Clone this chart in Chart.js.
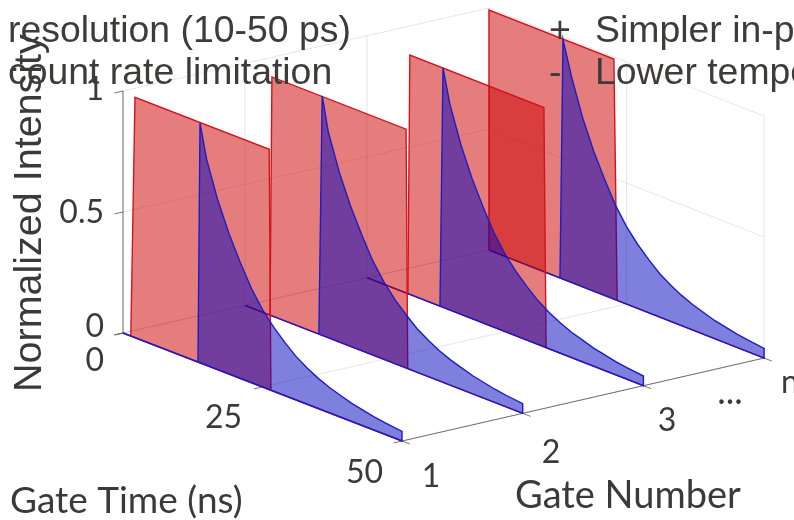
<!DOCTYPE html>
<html><head><meta charset="utf-8">
<style>html,body{margin:0;padding:0;background:#fff;overflow:hidden}canvas{display:block}</style>
<script src="https://cdn.jsdelivr.net/npm/chart.js@4"></script>
</head><body>
<div style="width:794px;height:520px;position:relative"><canvas id="c" width="794" height="520"></canvas></div>
<script>
const gates = [1, 2, 3, 4];
const gateTickLabels = ['1', '2', '3', 'n'];
const timeTicks = [0, 25, 50];
const intensityTicks = [0, 0.5, 1];
const redStart = [1.4, 4.5, 7.4, 0];
const redStartTop = [2.15, 4.85, 7.75, 0];
const redEnd = [26.5, 29.3, 32.4, 23.3];
const redEndTop = [26.2, 29.0, 32.0, 22.7];
const redHeight = [0.993, 0.987, 0.989, 0.992];
const blueStart = [13.44, 13.3, 13.2, 12.9];
const blueStartTop = [13.8, 13.9, 13.75, 13.45];
const bluePeak = 0.99;
const decayTime = [15, 17, 19, 21, 23, 25, 27, 29, 31, 33, 35, 37, 39, 41, 43, 45, 47, 50];
const decayValue = [0.85, 0.70, 0.58, 0.48, 0.39, 0.32, 0.265, 0.22, 0.18, 0.15, 0.125, 0.105, 0.09, 0.075, 0.065, 0.055, 0.048, 0.04];
const noteLeft = ['resolution (10-50 ps)', 'count rate limitation'];
const noteRightSign = ['+', '-'];
const noteRight = ['Simpler in-pixel', 'Lower temporal'];

function project(t, g, z) {
  const k = g - 1;
  return {
    x: 123 + 5.58 * t + k * (122 - 0.026 * t),
    y: 333 + 2.16 * t - 27.65 * k - 242 * z
  };
}
const line = (pts, color, width) => ({
  data: pts.map(p => project(p[0], p[1], p[2])),
  borderColor: color, borderWidth: width, pointRadius: 0, showLine: true, fill: false, tension: 0
});
const shape = (pts, fillColor, color) => ({
  data: pts.map(p => project(p[0], p[1], p[2])),
  borderColor: color, backgroundColor: fillColor, borderWidth: 1.4, pointRadius: 0,
  showLine: true, fill: 'shape', tension: 0, borderJoinStyle: 'miter'
});

const GRID = 'rgba(0,0,0,0.10)';
const AX = 'rgba(70,70,70,0.75)';
const datasets = [];
const tMin = timeTicks[0], tMax = timeTicks[timeTicks.length - 1];
const gMin = gates[0], gMax = gates[gates.length - 1];
const zMax = intensityTicks[intensityTicks.length - 1];

// back walls and floor
intensityTicks.forEach(z => {
  datasets.push(line([[tMin, gMin, z], [tMin, gMax, z], [tMax, gMax, z]], GRID, 1));
});
gates.forEach(g => {
  datasets.push(line([[tMin, g, 0], [tMin, g, zMax]], GRID, 1));
  datasets.push(line([[tMin, g, 0], [tMax, g, 0]], GRID, 1));
});
timeTicks.forEach(t => {
  datasets.push(line([[t, gMin, 0], [t, gMax, 0], [t, gMax, zMax]], GRID, 1));
});
// axis rulers
datasets.push(line([[tMin, gMin, 0], [tMin, gMin, zMax]], 'rgba(110,110,110,0.8)', 1.2));
datasets.push(line([[tMax, gMin, 0], [tMax, gMax, 0]], AX, 1));
intensityTicks.forEach(z => datasets.push(line([[tMin, gMin, z], [tMin, gMin - 0.07, z]], AX, 1)));
timeTicks.forEach(t => datasets.push(line([[t, gMin, 0], [t, gMin - 0.07, 0]], AX, 1)));
gates.forEach(g => datasets.push(line([[tMax, g, 0], [tMax + 1.4, g, 0]], AX, 1)));

// gates, back to front
for (let i = gates.length - 1; i >= 0; i--) {
  const g = gates[i];
  datasets.push(shape([
    [tMin, g, 0], [redStart[i], g, 0], [redStartTop[i], g, redHeight[i]],
    [redEndTop[i], g, redHeight[i]], [redEnd[i], g, 0], [tMax, g, 0], [tMin, g, 0]
  ], 'rgba(204,0,0,0.51)', 'rgb(214,18,30)'));
  const curve = decayTime.map((t, j) => [t, g, decayValue[j]]);
  datasets.push(shape([
    [tMin, g, 0], [blueStart[i], g, 0], [blueStartTop[i], g, bluePeak], ...curve, [tMax, g, 0], [tMin, g, 0]
  ], 'rgba(0,0,190,0.5)', 'rgb(28,28,196)'));
}
// Chart.js paints the lowest order last, so later entries go on top
datasets.forEach((d, i) => { d.order = -i; });

const textPlugin = {
  id: 'labels',
  afterDatasetsDraw(chart) {
    const c = chart.ctx;
    const put = (s, x, y, font, color, align, rot) => {
      c.save();
      c.font = font; c.fillStyle = color; c.textAlign = align || 'left'; c.textBaseline = 'alphabetic';
      c.translate(x, y);
      if (rot) c.rotate(rot);
      c.fillText(s, 0, 0);
      c.restore();
    };
    const cal = '32px Lato, sans-serif', dk = '#3a3a3a';
    put(String(intensityTicks[2]), 104, 100, cal, dk, 'right');
    put(String(intensityTicks[1]), 104, 223, cal, dk, 'right');
    put(String(intensityTicks[0]), 104, 337, cal, dk, 'right');
    put(String(timeTicks[0]), 104, 371, cal, dk, 'right');
    put(String(timeTicks[1]), 242, 428, cal, dk, 'right');
    put(String(timeTicks[2]), 383, 483, cal, dk, 'right');
    put(gateTickLabels[0], 431, 487, cal, dk, 'center');
    put(gateTickLabels[1], 551, 463, cal, dk, 'center');
    put(gateTickLabels[2], 667, 431, cal, dk, 'center');
    put('...', 730, 404, '36px Lato, sans-serif', dk, 'center');
    put(gateTickLabels[3], 781, 393, cal, dk, 'left');
    put('Gate Time (ns)', 10, 513, '37px Lato, sans-serif', dk);
    put('Gate Number', 515, 508, '38px Lato, sans-serif', dk);
    put('Normalized Intensity', 41, 392, '39.5px "Liberation Sans", sans-serif', '#3a3a3a', 'left', -Math.PI / 2);
    const ar = '37.4px "Liberation Sans", sans-serif', tx = '#3f3b3a';
    put(noteLeft[0], 8, 42, ar, tx);
    put(noteLeft[1], 8, 84, ar, tx);
    put(noteRightSign[0], 549, 42, ar, tx);
    put(noteRightSign[1], 549, 84, ar, tx);
    put(noteRight[0], 595, 42, ar, tx);
    put(noteRight[1], 595, 84, ar, tx);
  }
};

new Chart(document.getElementById('c'), {
  type: 'scatter',
  data: { datasets },
  options: {
    responsive: false, animation: false,
    layout: { padding: 0 },
    plugins: { legend: { display: false }, tooltip: { enabled: false }, title: { display: false } },
    scales: {
      x: { type: 'linear', min: 0, max: 794, display: false },
      y: { type: 'linear', min: 0, max: 520, reverse: true, display: false }
    }
  },
  plugins: [textPlugin]
});
</script>
</body></html>
